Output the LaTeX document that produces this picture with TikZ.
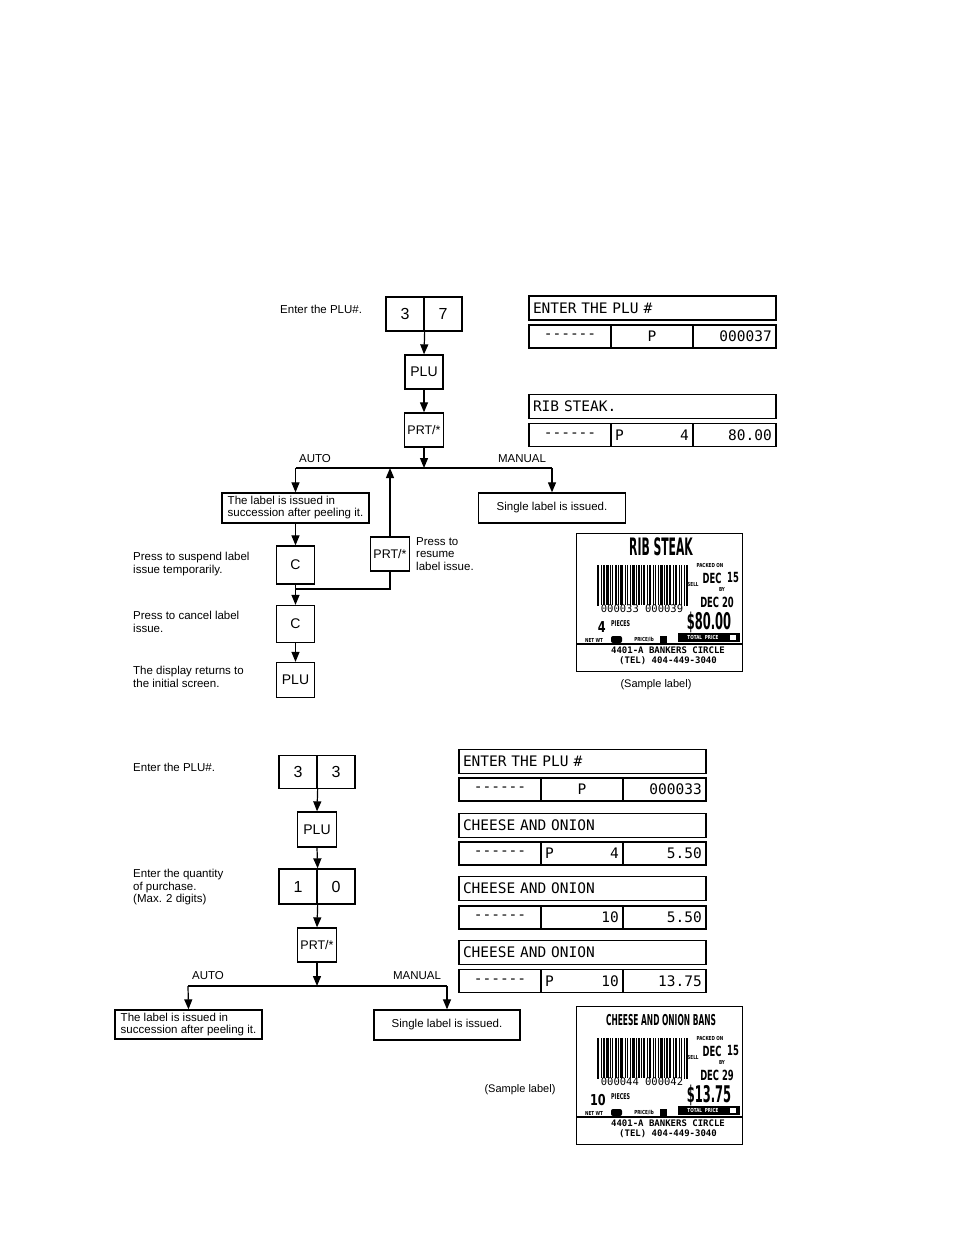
\documentclass[tikz,border=0pt]{standalone}
\usepackage{fontspec}
\usepackage{graphicx}
\setmainfont{Liberation Sans}
\newfontfamily\dispfont{DejaVu Sans Mono}
\newfontfamily\labfont{DejaVu Sans}
\newfontfamily\labmono{DejaVu Sans Mono}
\usetikzlibrary{arrows.meta}

\newcommand\cb[3]{\scalebox{#2}[1]{\fontsize{#1}{#1}\selectfont\labfont\bfseries #3}}
\newcommand\lbtiny[1]{\scalebox{0.75}[1]{\fontsize{5.5}{5.5}\selectfont\labfont\bfseries #1}}

\tikzset{
  x=1pt, y=-1pt,
  keybox/.style={draw, line width=1.3pt, inner sep=1pt, minimum width=38pt, minimum height=34pt, font=\fontsize{14}{14}\selectfont},
  digit/.style={keybox, font=\fontsize{16}{16}\selectfont},
  prtkey/.style={keybox, minimum width=39pt, font=\fontsize{12.5}{12.5}\selectfont},
  txtbox/.style={draw, line width=1.3pt, align=left, inner xsep=3pt, inner ysep=2pt, minimum width=147pt, minimum height=30pt, font=\fontsize{11.5}{12}\selectfont},
  note/.style={align=left, anchor=north west, inner sep=0pt, font=\fontsize{11.5}{12.5}\selectfont},
  branch/.style={inner sep=0pt, font=\fontsize{11.5}{12}\selectfont},
  arr/.style={line width=1.2pt, -{Triangle[length=10pt,width=8pt]}},
  ln/.style={line width=1.2pt},
  dtitle/.style={draw, line width=1.3pt, outer sep=0pt, anchor=west, minimum width=247pt, minimum height=24pt, text width=239pt, inner xsep=4pt, inner ysep=0pt, align=left, font=\dispfont\fontsize{14.5}{14.5}\selectfont},
  dcell/.style={draw, line width=1.3pt, outer sep=0pt, anchor=west, minimum height=23pt, inner sep=0pt, font=\dispfont\fontsize{14.5}{14.5}\selectfont},
  dtxt/.style={inner xsep=4pt, inner ysep=0pt, font=\dispfont\fontsize{14.5}{14.5}\selectfont},
  samp/.style={inner sep=0pt, font=\fontsize{11}{12}\selectfont}
}

\newcommand\disprow[7]{%
  \node[dcell, minimum width=82pt] (#1a) at (#2,#3) {{-}{-}{-}{-}{-}{-}};
  \node[dcell, minimum width=82pt] (#1b) at (#1a.east) {#4};
  \node[dcell, minimum width=83pt] (#1c) at (#1b.east) {};
  \node[dtxt, anchor=west] at (#1b.west) {#5};
  \node[dtxt, anchor=east] at (#1b.east) {#6};
  \node[dtxt, anchor=east] at (#1c.east) {#7};}

\newcommand\samplelabel[8]{%
  \begin{scope}[shift={(#2,#3)}]
    \node[draw, line width=1.2pt, minimum width=166pt, minimum height=138pt, anchor=north west, inner sep=0pt] (#1) at (0,0) {};
    \node[inner sep=0pt] at (85,14) {#4};
    \foreach \bx/\bw in {0/2,3.5/1,6/1.5,9/2.5,13/1,15/1,17.5/2,21/1,23/3,27.5/1,29.5/1.5,32.5/1,35/2.5,39/1,41/1.5,44/1,46/2,49.5/1,51.5/2.5,55.5/1,57.5/1.5,60.5/1,62.5/3,67/1,69/1.5,72/2,75.5/1,77.5/2.5,81.5/1,83.5/1.5,86.5/1,89/2}
      \fill (21+\bx,32) rectangle ++(\bw,41);
    \node[fill=white, inner sep=0.3pt, font=\labmono\fontsize{10.5}{10.5}\selectfont] at (66,76) {#5};
    \node[inner sep=0pt] at (134,32) {\lbtiny{PACKED ON}};
    \node[inner sep=0pt] at (117,51) {\lbtiny{SELL}};
    \node[inner sep=0pt] at (146,56) {\lbtiny{BY}};
    \node[inner sep=0pt] at (136,45) {\cb{14}{0.6}{DEC}};
    \node[inner sep=0pt] at (157,44) {\cb{14}{0.6}{15}};
    \node[inner sep=0pt] at (141,69) {\cb{14}{0.6}{DEC #6}};
    \node[inner sep=0pt, anchor=east] at (30,94) {\cb{15}{0.75}{#7}};
    \node[inner sep=0pt, anchor=west] at (35,91) {\cb{8}{0.6}{PIECES}};
    \node[inner sep=0pt] at (18,107) {\lbtiny{NET WT}};
    \fill[rounded corners=2pt] (35,103) rectangle (46,110);
    \node[inner sep=0pt] at (68,107) {\lbtiny{PRICE/lb}};
    \fill (84,103) rectangle (91,110);
    \node[inner sep=0pt] at (133,89) {\cb{23}{0.5}{\$#8}};
    \fill (102,100) rectangle (164,109);
    \node[inner sep=0pt, text=white] at (127,104.5) {\lbtiny{TOTAL\ \ PRICE}};
    \fill[white] (154,102) rectangle (160,107);
    \draw[line width=1.2pt] (0,111) -- (166,111);
    \node[inner sep=0pt, align=center, font=\labmono\bfseries\fontsize{9}{10}\selectfont] at (92,123) {4401-A BANKERS CIRCLE\\(TEL) 404-449-3040};
  \end{scope}}

\begin{document}
\begin{tikzpicture}
\fill[white] (0,0) rectangle (954,1235);
\useasboundingbox (0,0) rectangle (954,1235);

% ================= TOP SECTION =================
\node[note] (n1) at (280,305) {Enter the PLU\#.};
\node[digit] (k3a) at (405,314) {3};
\node[digit] (k7a) at (443,314) {7};
\node[keybox] (plu1) at (424,372) {PLU};
\node[prtkey] (prt1) at (424,430) {PRT/*};
\coordinate (j1) at (424,468);
\coordinate (jl1) at (295.5,468);
\coordinate (jr1) at (552,468);
\coordinate (ju1) at (390,468);
\node[branch] (auto1) at (315,459) {AUTO};
\node[branch] (man1) at (522,459) {MANUAL};
\node[txtbox] (ab1) at (295.5,508) {The label is issued in\\succession after peeling it.};
\node[txtbox, align=center] (mb1) at (552,508) {Single label is issued.};
\node[keybox, minimum height=38pt] (c1) at (295.5,565) {C};
\node[prtkey, minimum height=34pt] (prt2) at (390,554) {PRT/*};
\node[keybox, minimum height=37pt] (c2) at (295.5,624) {C};
\node[keybox, minimum height=35pt] (plu2) at (295.5,680) {PLU};
\coordinate (m1) at (295.5,589);

\draw[arr] (k3a.south east) -- (plu1.north);
\draw[arr] (plu1.south) -- (prt1.north);
\draw[arr] (prt1.south) -- (j1);
\draw[ln] (jl1) -- (jr1);
\draw[arr] (jl1) -- (ab1.north);
\draw[arr] (jr1) -- (mb1.north);
\draw[arr] (ab1.south) -- (c1.north);
\draw[arr] (prt2.north) -- (ju1);
\draw[ln] (prt2.south) |- (m1);
\draw[arr] (c1.south) -- (c2.north);
\draw[arr] (c2.south) -- (plu2.north);

\node[note] (n2) at (133,552) {Press to suspend label\\issue temporarily.};
\node[note] (n3) at (133,611) {Press to cancel label\\issue.};
\node[note] (n4) at (133,666) {The display returns to\\the initial screen.};
\node[note] (n5) at (416,537) {Press to\\resume\\label issue.};

% top displays
\node[dtitle] (t1) at (529,308) {ENTER THE PLU \#};
\disprow{r1}{529}{336.5}{P}{}{}{000037}
\node[dtitle] (t2) at (529,406.5) {RIB STEAK.};
\disprow{r2}{529}{435}{}{P}{4}{80.00}

\samplelabel{lab1}{576}{533}{\cb{24}{0.45}{RIB STEAK}}{000033 000039}{20}{4}{80.00}
\node[samp] (s1) at (656,685) {(Sample label)};

% ================= BOTTOM SECTION =================
\node[note] (n6) at (133,763) {Enter the PLU\#.};
\node[digit, minimum height=33pt] (k3b) at (298,772) {3};
\node[digit, minimum height=33pt] (k3c) at (336,772) {3};
\node[keybox, minimum width=39pt, minimum height=35pt] (plu3) at (317,829.5) {PLU};
\node[note] (n7) at (133,869) {Enter the quantity\\of purchase.\\(Max. 2 digits)};
\node[digit, minimum height=35pt] (k1) at (298,886.5) {1};
\node[digit, minimum height=35pt] (k0) at (336,886.5) {0};
\node[prtkey] (prt3) at (317,945) {PRT/*};
\coordinate (j2) at (317,986);
\coordinate (jl2) at (188,986);
\coordinate (jr2) at (447,986);
\node[branch] (auto2) at (208,976) {AUTO};
\node[branch] (man2) at (417,976) {MANUAL};
\node[txtbox, minimum height=29pt] (ab2) at (188.5,1024.5) {The label is issued in\\succession after peeling it.};
\node[txtbox, align=center, minimum width=146pt] (mb2) at (447,1025) {Single label is issued.};

\draw[arr] (k3b.south east) -- (plu3.north);
\draw[arr] (plu3.south) -- (k1.north east);
\draw[arr] (k1.south east) -- (prt3.north);
\draw[arr] (prt3.south) -- (j2);
\draw[ln] (jl2) -- (jr2);
\draw[arr] (jl2) -- (ab2.north);
\draw[arr] (jr2) -- (mb2.north);

% bottom displays
\node[dtitle] (t3) at (459,761.5) {ENTER THE PLU \#};
\disprow{r3}{459}{789.5}{P}{}{}{000033}
\node[dtitle] (t4) at (459,825.5) {CHEESE AND ONION};
\disprow{r4}{459}{853.5}{}{P}{4}{5.50}
\node[dtitle] (t5) at (459,888.5) {CHEESE AND ONION};
\disprow{r5}{459}{917.5}{}{}{10}{5.50}
\node[dtitle] (t6) at (459,952.5) {CHEESE AND ONION};
\disprow{r6}{459}{981}{}{P}{10}{13.75}

\samplelabel{lab2}{576}{1006}{\cb{15}{0.5}{CHEESE AND ONION BANS}}{000044 000042}{29}{10}{13.75}
\node[samp] (s2) at (520,1090) {(Sample label)};
\end{tikzpicture}
\end{document}
